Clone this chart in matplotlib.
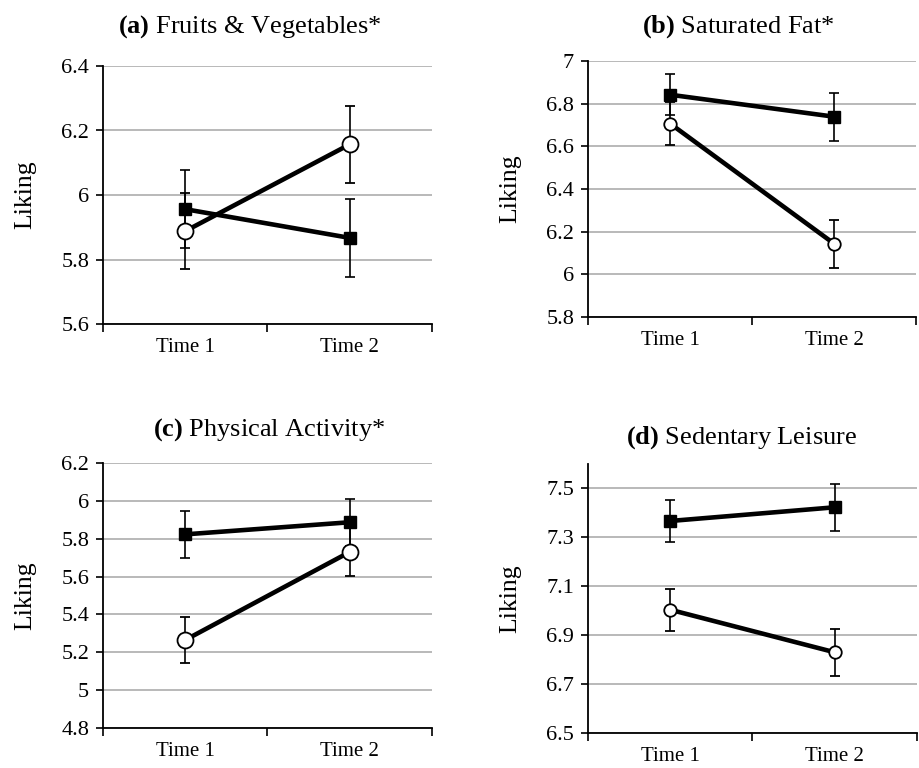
import numpy as np
import matplotlib.pyplot as plt

plt.rcParams['font.family'] = ['Liberation Serif', 'DejaVu Serif']
plt.rcParams['mathtext.fontset'] = 'custom'
plt.rcParams['mathtext.rm'] = 'Liberation Serif'
plt.rcParams['mathtext.bf'] = 'Liberation Serif:bold'

times = ['Time 1', 'Time 2']
letters = ['a', 'b', 'c', 'd']
titles = ['Fruits & Vegetables*', 'Saturated Fat*', 'Physical Activity*', 'Sedentary Leisure']

# filled squares
sq_mean = [[5.956, 5.867], [6.842, 6.739], [5.823, 5.887], [7.367, 7.423]]
sq_err = [[0.12, 0.12], [0.095, 0.112], [0.123, 0.123], [0.085, 0.095]]
# open circles
ci_mean = [[5.888, 6.157], [6.707, 6.144], [5.265, 5.730], [7.004, 6.830]]
ci_err = [[0.117, 0.12], [0.1, 0.112], [0.123, 0.125], [0.085, 0.095]]

ylims = [(5.6, 6.4), (5.8, 7.0), (4.8, 6.2), (6.5, 7.6)]
yticks = [np.arange(5.6, 6.41, 0.2), np.arange(5.8, 7.01, 0.2),
          np.arange(4.8, 6.21, 0.2), np.arange(6.5, 7.51, 0.2)]

W, H = 920, 768
# axes boxes in pixels: left, right, top, bottom
boxes = [(103, 432, 66, 324), (588, 916, 61, 317),
         (103, 432, 463, 728), (588, 917, 464, 733)]
title_pos = [(250, 33), (738, 33), (269, 436), (742, 444)]
ylab_x = [25, 510, 25, 510]
circle_ms = [11.5, 9, 11.5, 9]
square_ms = [8.6, 8.6, 8.6, 8.6]

fig = plt.figure(figsize=(W / 100, H / 100), dpi=100)

for i in range(4):
    l, r, t, b = boxes[i]
    ax = fig.add_axes([l / W, 1 - b / H, (r - l) / W, (b - t) / H])
    x = np.array([0.5, 1.5])
    ax.errorbar(x, sq_mean[i], yerr=sq_err[i], color='black', lw=3.3, marker='s',
                ms=square_ms[i], mfc='black', ecolor='black', elinewidth=1.2,
                capsize=3.4, capthick=1.2, zorder=3)
    ax.errorbar(x, ci_mean[i], yerr=ci_err[i], color='black', lw=3.3, marker='o',
                ms=circle_ms[i], mfc='white', mec='black', mew=1.3, ecolor='black',
                elinewidth=1.2, capsize=3.4, capthick=1.2, zorder=4)
    ax.set_xlim(0, 2)
    ax.set_ylim(*ylims[i])
    ax.set_yticks(yticks[i])
    ax.set_yticklabels(['%g' % round(v, 1) for v in yticks[i]])
    ax.set_xticks([0, 1, 2])
    ax.set_xticklabels([])
    ax.set_xticks(x, minor=True)
    ax.set_xticklabels(times, minor=True, fontsize=15)
    ax.tick_params(axis='x', which='minor', length=0, pad=10)
    ax.tick_params(axis='x', which='major', length=6, width=1.2, direction='out')
    ax.tick_params(axis='y', length=5, width=1.2, direction='out', labelsize=16, pad=5)
    ax.yaxis.grid(True, color='#a6a6a6', lw=1.1)
    ax.set_axisbelow(True)
    for s in ['top', 'right']:
        ax.spines[s].set_visible(False)
    for s in ['left', 'bottom']:
        ax.spines[s].set_linewidth(1.3)
    fig.text(ylab_x[i] / W, 1 - ((t + b) / 2) / H, 'Liking', rotation=90,
             fontsize=18.5, ha='center', va='center')
    fig.text(title_pos[i][0] / W, 1 - title_pos[i][1] / H,
             r'$\mathbf{(%s)}$ %s' % (letters[i], titles[i]),
             fontsize=19, ha='center', va='baseline')

fig.savefig('out.png', dpi=100)
